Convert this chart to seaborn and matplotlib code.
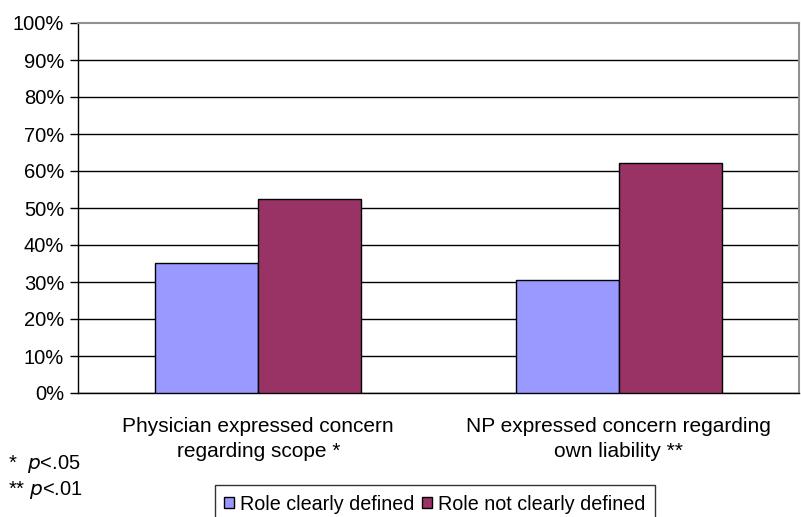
import matplotlib
matplotlib.use("Agg")
import matplotlib.pyplot as plt
import seaborn as sns
import pandas as pd
from matplotlib.patches import Patch

categories = ["Physician expressed concern\nregarding scope *",
              "NP expressed concern regarding\nown liability **"]
series = ["Role clearly defined", "Role not clearly defined"]
clearly_defined = [35.2, 30.5]
not_clearly_defined = [52.4, 62.2]
y_ticks = [0, 10, 20, 30, 40, 50, 60, 70, 80, 90, 100]
colors = ["#9999FF", "#993366"]

df = pd.DataFrame({
    "category": categories * 2,
    "role": [series[0]] * 2 + [series[1]] * 2,
    "value": clearly_defined + not_clearly_defined,
})

sns.set_theme(style="white")
plt.rcParams["font.family"] = ["Liberation Sans", "DejaVu Sans"]
plt.rcParams["text.color"] = "black"
plt.rcParams["xtick.color"] = "black"
plt.rcParams["ytick.color"] = "black"

fig = plt.figure(figsize=(8.01, 5.17), dpi=100)
ax = fig.add_axes([78 / 801, 1 - 393 / 517, 721 / 801, 370 / 517])

sns.barplot(data=df, x="category", y="value", hue="role", palette=colors,
            width=0.572, edgecolor="black", linewidth=1.0, saturation=1,
            legend=False, ax=ax, zorder=3)

ax.set_ylim(0, 100)
ax.set_xlim(-0.5, 1.5)
ax.set_yticks(y_ticks)
ax.set_yticklabels([f"{t}%" for t in y_ticks], fontsize=14.5)
ax.set_xticks([0, 1])
ax.set_xticklabels(categories, fontsize=15, linespacing=1.35)
ax.tick_params(axis="x", length=0, pad=17.5)
ax.tick_params(axis="y", length=6, width=1, color="black", left=True, pad=4)
ax.set_xlabel("")
ax.set_ylabel("")

for t in y_ticks[:-1]:
    ax.axhline(t, color="black", linewidth=1.0, zorder=1)

for side in ["top", "right"]:
    ax.spines[side].set_color("#909090")
    ax.spines[side].set_linewidth(1.5)
for side in ["left", "bottom"]:
    ax.spines[side].set_color("black")
    ax.spines[side].set_linewidth(1.0)

fig.text(8 / 801, 1 - 464 / 517, "*  $\\it{p}$<.05", fontsize=14.5, va="center")
fig.text(8 / 801, 1 - 490 / 517, "** $\\it{p}$<.01", fontsize=14.5, va="center")

handles = [Patch(facecolor=c, edgecolor="black", linewidth=1.0) for c in colors]
leg = fig.legend(handles, series, loc="upper center", ncol=2,
                 bbox_to_anchor=(435 / 801, 1 - 485 / 517),
                 fontsize=14.2, frameon=True, fancybox=False,
                 handlelength=0.5, handleheight=0.5, handletextpad=0.3,
                 columnspacing=0.4, borderpad=0.5, borderaxespad=0)
leg.get_frame().set_edgecolor("black")
leg.get_frame().set_linewidth(1.0)

fig.savefig("out.png", dpi=100)
